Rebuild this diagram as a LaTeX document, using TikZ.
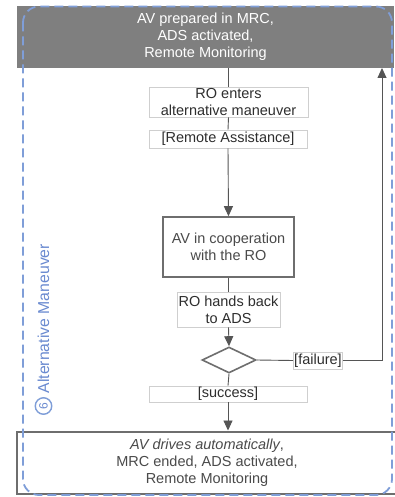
\documentclass[tikz,border=0pt]{standalone}
\usepackage{fontspec}
\setmainfont{Liberation Sans}
\usetikzlibrary{shapes.geometric,arrows.meta}
\definecolor{topgray}{HTML}{7F7F7F}
\definecolor{linegray}{HTML}{555555}
\definecolor{boxgray}{HTML}{6E6E6E}
\definecolor{lightborder}{HTML}{CFCFCF}
\definecolor{bluedash}{HTML}{7F9ED8}
\definecolor{bluetext}{HTML}{6A8AD0}
\definecolor{txtdark}{HTML}{2E2E2E}
\definecolor{txtgray}{HTML}{4A4A4A}
\tikzset{
  every node/.style={font=\fontsize{14.5}{16.8}\selectfont, align=center, inner sep=0pt},
  topbox/.style={fill=topgray, draw=none, text=white, minimum width=377pt, minimum height=62pt},
  endbox/.style={fill=white, draw=boxgray, line width=2pt, text=txtgray, minimum width=380pt, minimum height=62pt},
  statebox/.style={fill=white, draw=boxgray, line width=1.6pt, text=txtgray},
  lbl/.style={fill=white, draw=lightborder, line width=0.6pt, text=txtdark},
  decision/.style={diamond, draw=boxgray, line width=1.6pt, fill=white, minimum width=54pt, minimum height=26pt},
  conn/.style={draw=linegray, line width=0.9pt},
  arr/.style={conn, -{Triangle[width=9pt,length=10pt]}, color=linegray},
  regionlbl/.style={rotate=90, text=bluetext, font=\fontsize{15.8}{16}\selectfont}
}
\begin{document}
\begin{tikzpicture}[x=1pt,y=-1pt]
\useasboundingbox (0,0) rectangle (394,497);
\fill[white] (0,0) rectangle (394,497);
% nodes
\node[topbox] (top) at (205.5,37) {AV prepared in MRC,\\ADS activated,\\Remote Monitoring};
\node[lbl, minimum width=159pt, minimum height=30pt] (ro) at (228.5,102) {RO enters\\alternative maneuver};
\node[lbl, minimum width=158pt, minimum height=18pt] (ra) at (228,139) {[Remote Assistance]};
\node[statebox, minimum width=131pt, minimum height=60pt] (coop) at (228.5,247) {AV in cooperation\\with the RO};
\node[lbl, minimum width=103pt, minimum height=35pt] (hb) at (228.5,309.5) {RO hands back\\to ADS};
\node[decision] (dec) at (229,360) {};
\node[lbl, minimum width=49pt, minimum height=17pt] (fail) at (318,360.5) {[failure]};
\node[lbl, minimum width=158pt, minimum height=16pt] (succ) at (228,394) {[success]};
\node[endbox] (end) at (207,462.5) {\textit{AV drives automatically},\\MRC ended, ADS activated,\\Remote Monitoring};
\coordinate (ret) at (382,68);
% connectors
\draw[conn] (top.south -| ro.north) -- (ro.north);
\draw[conn] (ro.south) -- (ra.north);
\draw[arr] (ra.south) -- (coop.north);
\draw[conn] (coop.south) -- (hb.north);
\draw[arr] (hb.south) -- (dec.north);
\draw[conn] (dec.east) -- (fail.west);
\draw[arr] (fail.east) -| (ret);
\draw[conn] (dec.south) -- (succ.north);
\draw[arr] (succ.south) -- (succ.south |- end.north);
% dashed region
\draw[bluedash, line width=1.8pt, dash pattern=on 9pt off 5pt, rounded corners=16pt] (23,6.5) rectangle (392,495);
\node[circle, draw=bluedash, line width=1.4pt, minimum size=16.5pt, text=bluetext, rotate=90, font=\fontsize{12}{12}\selectfont] (six) at (43.5,406) {6};
\node[regionlbl, anchor=west] (reg) at (43.5,393.5) {Alternative Maneuver};
\end{tikzpicture}
\end{document}
